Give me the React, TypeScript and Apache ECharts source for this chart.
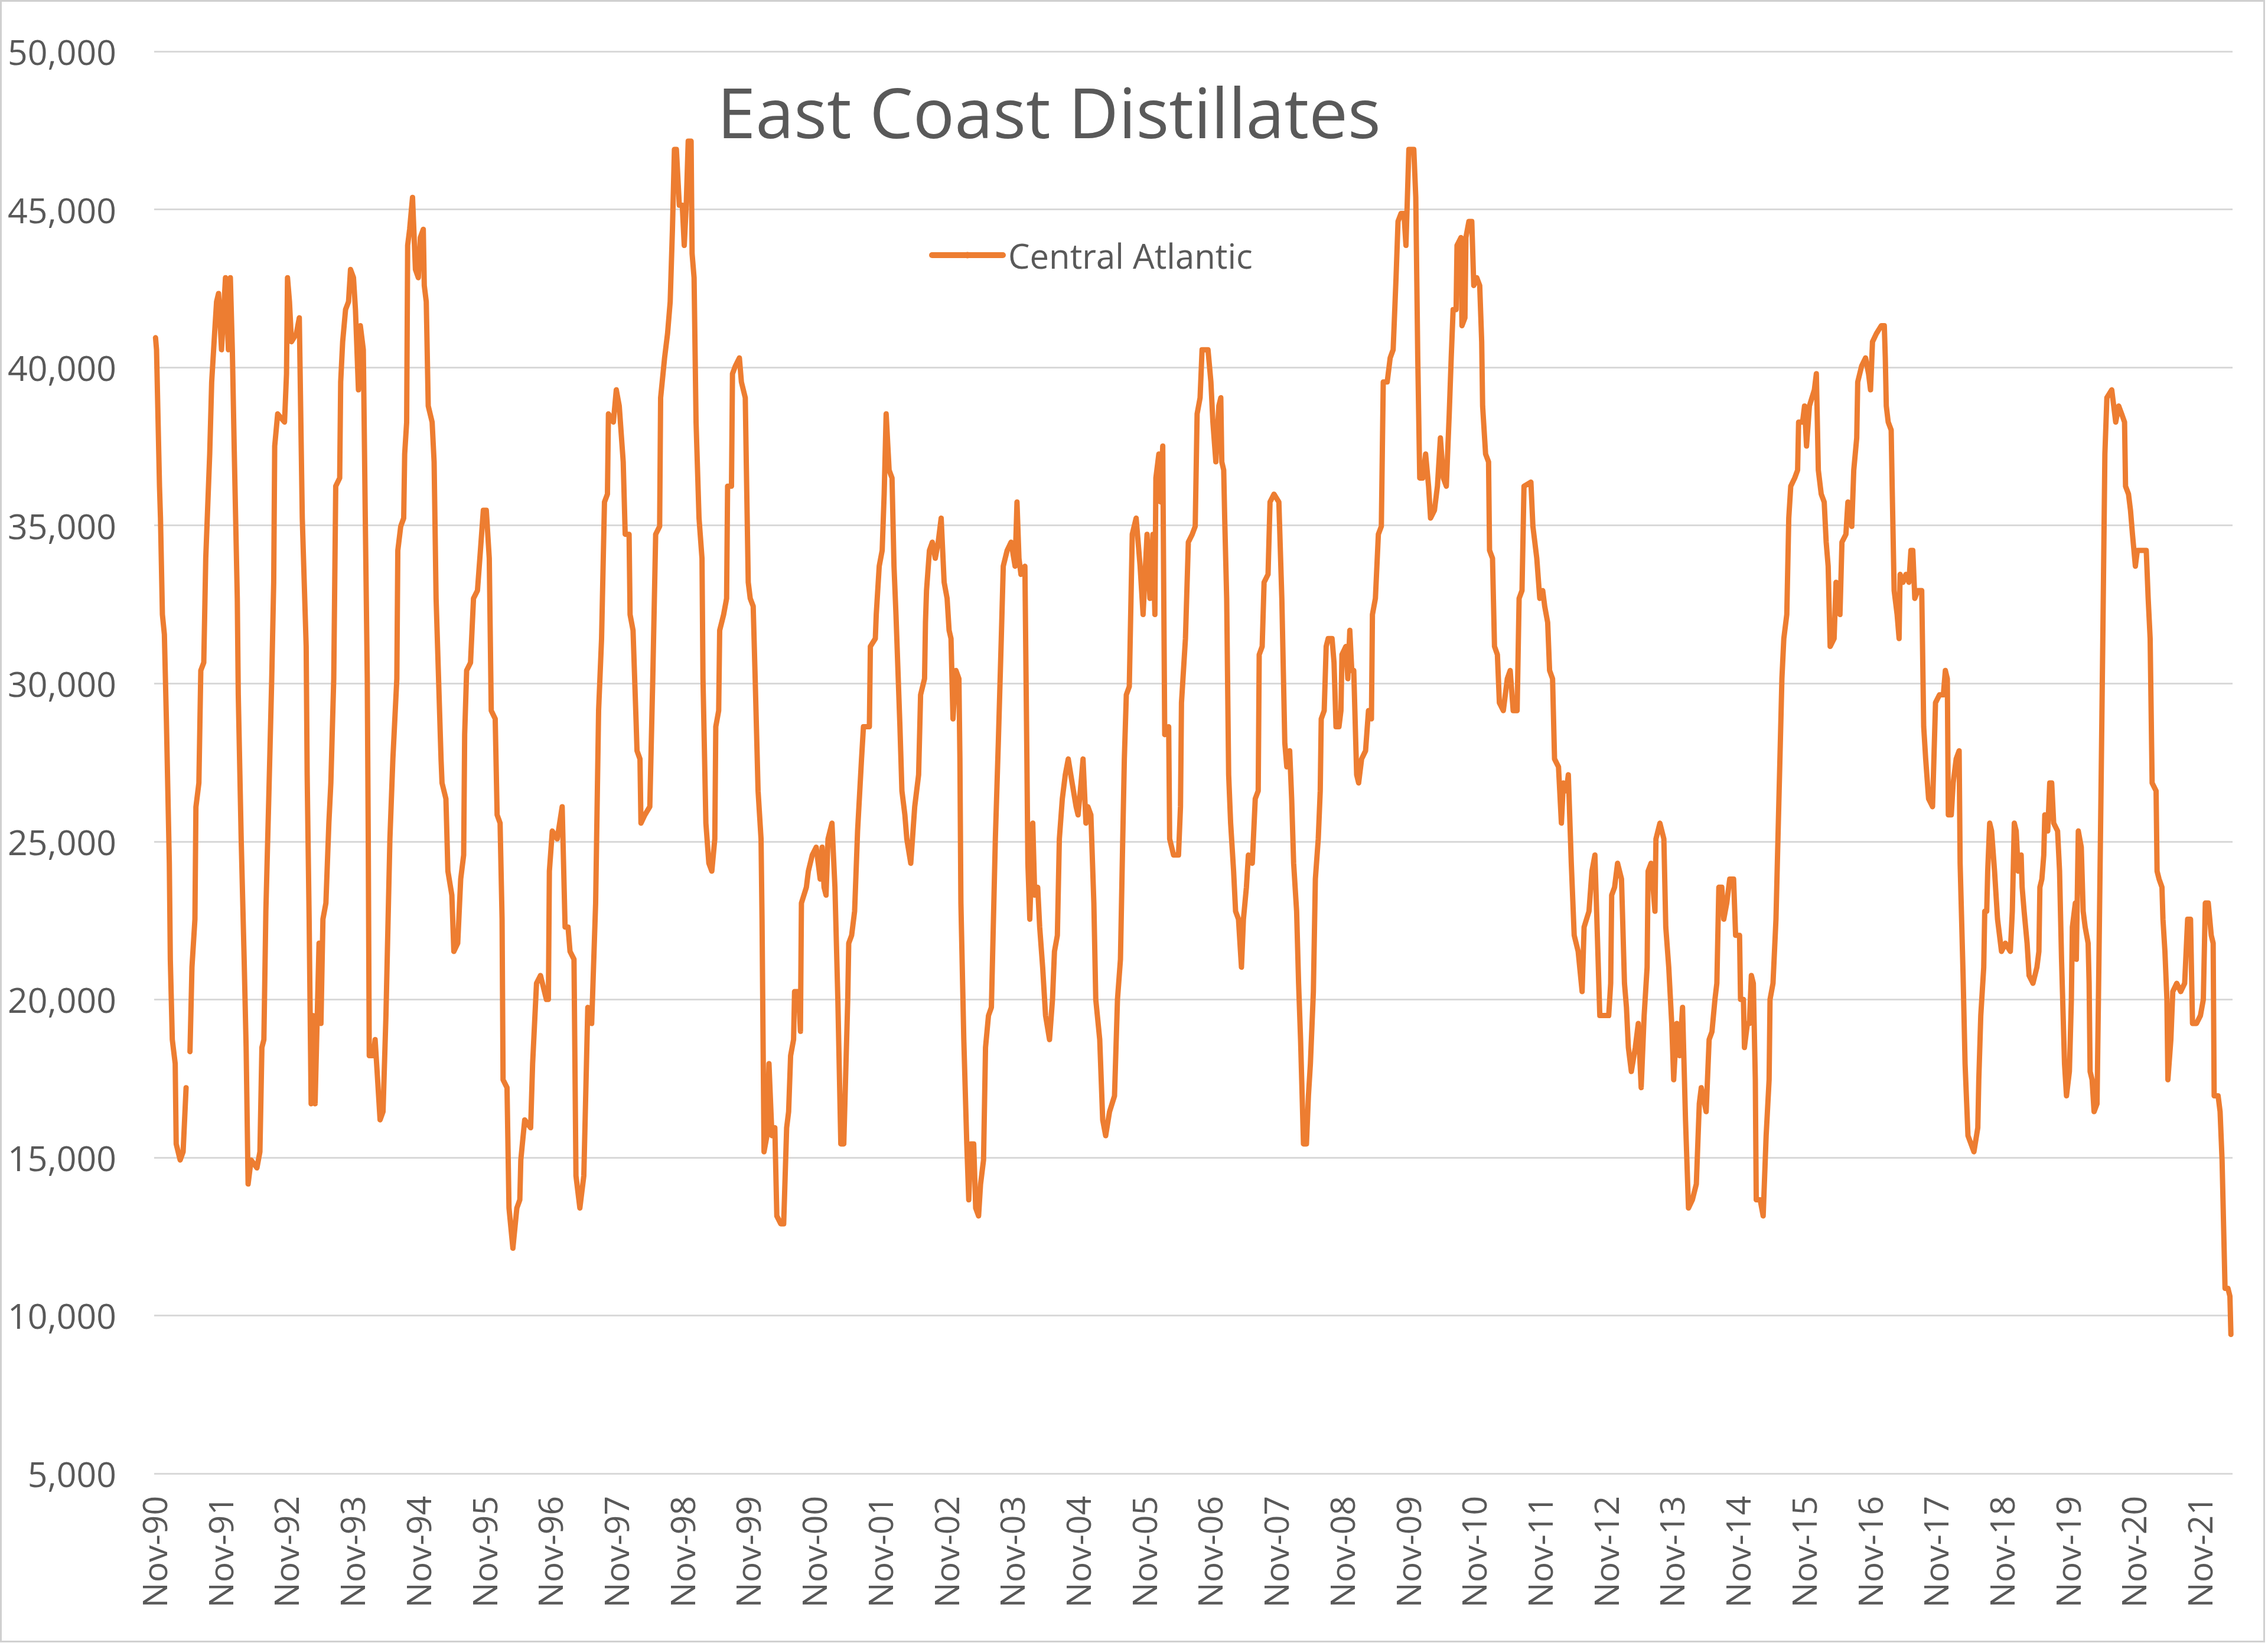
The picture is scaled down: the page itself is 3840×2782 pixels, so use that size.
import React, { useEffect, useRef } from 'react';
import * as echarts from 'echarts';

const TITLE = 'East Coast Distillates';
const SERIES_NAME = 'Central Atlantic';

const tickLabels = [
  'Nov-90', 'Nov-91', 'Nov-92', 'Nov-93', 'Nov-94', 'Nov-95', 'Nov-96', 'Nov-97',
  'Nov-98', 'Nov-99', 'Nov-00', 'Nov-01', 'Nov-02', 'Nov-03', 'Nov-04', 'Nov-05',
  'Nov-06', 'Nov-07', 'Nov-08', 'Nov-09', 'Nov-10', 'Nov-11', 'Nov-12', 'Nov-13',
  'Nov-14', 'Nov-15', 'Nov-16', 'Nov-17', 'Nov-18', 'Nov-19', 'Nov-20', 'Nov-21',
];

// [years since Nov-1990, stocks (thousand barrels)]
const stocks1990to1994: [number, number | null][] = [
  [0.021, 40940], [0.036, 40560], [0.081, 36240], [0.096, 35230], [0.125, 32180], [0.155, 31550],
  [0.185, 28880], [0.230, 24310], [0.245, 21270], [0.275, 18730], [0.319, 17970], [0.334, 15430],
  [0.394, 14920], [0.439, 15180], [0.484, 17210], [0.51, null], [0.543, 18350], [0.573, 21020],
  [0.618, 22540], [0.633, 26090], [0.678, 26850], [0.707, 30410], [0.752, 30660], [0.782, 33960],
  [0.842, 37260], [0.872, 39540], [0.916, 41070], [0.946, 42080], [0.976, 42340], [1.021, 40560],
  [1.081, 42840], [1.125, 40560], [1.155, 42840], [1.185, 40560], [1.215, 37260], [1.260, 32690],
  [1.275, 29640], [1.319, 25080], [1.364, 21270], [1.394, 18480], [1.424, 14160], [1.469, 14920],
  [1.558, 14670], [1.603, 15180], [1.633, 18480], [1.663, 18730], [1.693, 22790], [1.737, 26350],
  [1.782, 30150], [1.812, 33200], [1.827, 37510], [1.872, 38530], [1.976, 38270], [2.006, 39800],
  [2.021, 42840], [2.051, 42080], [2.081, 40810], [2.155, 41070], [2.200, 41570], [2.245, 35230],
  [2.304, 31170], [2.319, 27110], [2.349, 22540], [2.379, 16700], [2.409, 19490], [2.439, 16700],
  [2.469, 19240], [2.499, 21780], [2.528, 19240], [2.558, 22540], [2.603, 23050], [2.648, 25580],
  [2.678, 26850], [2.722, 30150], [2.752, 36240], [2.812, 36500], [2.827, 39540], [2.857, 40810],
  [2.901, 41830], [2.946, 42080], [2.976, 43100], [3.021, 42840], [3.051, 41830], [3.096, 39290],
  [3.125, 41320], [3.170, 40560], [3.200, 35230], [3.230, 30150], [3.245, 25080], [3.260, 18220],
  [3.319, 18220], [3.349, 18730], [3.379, 17720], [3.424, 16190], [3.469, 16450], [3.513, 19490],
  [3.573, 25080], [3.618, 27610], [3.678, 30150], [3.693, 34210], [3.737, 34970], [3.782, 35230],
  [3.797, 37260], [3.827, 38270], [3.842, 43860], [3.872, 44370], [3.916, 45380],
];

const stocks1994to1998: [number, number][] = [
  [3.960, 43100], [4.004, 42840], [4.034, 44110], [4.079, 44370], [4.094, 42590], [4.124, 42080],
  [4.154, 38780], [4.213, 38270], [4.243, 37010], [4.273, 32690], [4.303, 30660], [4.348, 27610],
  [4.363, 26850], [4.422, 26350], [4.452, 24060], [4.512, 23300], [4.542, 21520], [4.601, 21780],
  [4.646, 23810], [4.691, 24570], [4.706, 28380], [4.736, 30410], [4.795, 30660], [4.840, 32690],
  [4.900, 32940], [4.945, 34210], [4.989, 35480], [5.034, 35480], [5.079, 33960], [5.109, 29140],
  [5.169, 28880], [5.198, 25840], [5.243, 25580], [5.273, 22540], [5.288, 17460], [5.348, 17210],
  [5.378, 13400], [5.437, 12130], [5.497, 13400], [5.542, 13660], [5.557, 14920], [5.616, 16190],
  [5.706, 15940], [5.736, 17970], [5.795, 20510], [5.855, 20760], [5.945, 20000], [5.975, 20000],
  [5.990, 24060], [6.034, 25330], [6.109, 25080], [6.184, 26100], [6.228, 22290], [6.273, 22290],
  [6.303, 21520], [6.363, 21270], [6.393, 14420], [6.452, 13400], [6.512, 14420], [6.572, 19750],
  [6.631, 19240], [6.691, 23050], [6.736, 29140], [6.781, 31420], [6.825, 35740], [6.870, 35990],
  [6.885, 38530], [6.960, 38270], [7.004, 39290], [7.049, 38780], [7.109, 37010], [7.139, 34720],
  [7.198, 34720], [7.213, 32180], [7.258, 31680], [7.303, 28880], [7.318, 27870], [7.363, 27610],
  [7.378, 25580], [7.437, 25840], [7.512, 26100], [7.557, 30150], [7.601, 34720], [7.661, 34970],
  [7.676, 39040], [7.736, 40300], [7.781, 41070], [7.821, 42080], [7.855, 44370],
];

const stocks1998to2002: [number, number][] = [
  [7.885, 46900], [7.915, 46900], [7.959, 45130], [8.004, 45130], [8.034, 43860], [8.064, 45130],
  [8.094, 47160], [8.138, 47160], [8.153, 43600], [8.183, 42840], [8.213, 38270], [8.258, 35230],
  [8.303, 33960], [8.318, 30150], [8.362, 25580], [8.407, 24310], [8.452, 24060], [8.497, 25080],
  [8.512, 28630], [8.556, 29140], [8.571, 31680], [8.631, 32180], [8.676, 32690], [8.691, 36240],
  [8.750, 36240], [8.765, 39800], [8.810, 40050], [8.870, 40300], [8.900, 39540], [8.959, 39040],
  [8.974, 37010], [9.004, 33200], [9.034, 32690], [9.079, 32440], [9.109, 30150], [9.153, 26600],
  [9.198, 25080], [9.213, 22540], [9.243, 15180], [9.288, 15690], [9.318, 17970], [9.363, 15690],
  [9.407, 15940], [9.437, 13150], [9.497, 12900], [9.541, 12900], [9.586, 15940], [9.616, 16450],
  [9.646, 18220], [9.691, 18730], [9.706, 20250], [9.765, 20250], [9.795, 18990], [9.810, 23050],
  [9.885, 23550], [9.915, 24060], [9.974, 24570], [10.034, 24820], [10.094, 23810], [10.124, 24820],
  [10.153, 23550], [10.183, 23300], [10.213, 25080], [10.273, 25580], [10.318, 23550], [10.362, 20000],
  [10.407, 15430], [10.452, 15430], [10.482, 17720], [10.512, 20000], [10.527, 21780], [10.571, 22030],
  [10.616, 22790], [10.661, 25330], [10.721, 27610], [10.750, 28630], [10.840, 28630], [10.855, 31170],
  [10.930, 31420], [10.944, 32180], [10.989, 33710], [11.034, 34210], [11.064, 35990], [11.094, 38530],
  [11.139, 36750], [11.183, 36500], [11.213, 33710], [11.243, 32180], [11.303, 28630], [11.333, 26600],
  [11.378, 25840], [11.407, 25080], [11.467, 24310], [11.527, 26100], [11.586, 27110], [11.616, 29640],
  [11.676, 30150], [11.690, 31930], [11.706, 32940], [11.750, 34210],
];

const stocks2002to2006: [number, number][] = [
  [11.794, 34470], [11.839, 33960], [11.883, 34470], [11.928, 35230], [11.973, 33200], [12.018, 32690],
  [12.048, 31680], [12.077, 31420], [12.107, 28880], [12.152, 30410], [12.197, 30150], [12.212, 27610],
  [12.227, 23050], [12.271, 18730], [12.316, 15430], [12.346, 13660], [12.376, 15430], [12.421, 15430],
  [12.451, 13400], [12.495, 13150], [12.525, 14160], [12.570, 14920], [12.600, 18480], [12.645, 19490],
  [12.689, 19750], [12.749, 25080], [12.794, 28120], [12.839, 31420], [12.869, 33710], [12.928, 34210],
  [12.988, 34470], [13.048, 33710], [13.077, 35740], [13.107, 33960], [13.137, 33450], [13.197, 33710],
  [13.227, 27610], [13.242, 24310], [13.271, 22540], [13.316, 25580], [13.346, 23300], [13.391, 23550],
  [13.421, 22290], [13.466, 21020], [13.510, 19490], [13.570, 18730], [13.615, 20000], [13.645, 21520],
  [13.689, 22030], [13.719, 25080], [13.764, 26350], [13.809, 27110], [13.854, 27610], [13.913, 26850],
  [13.973, 26100], [14.003, 25840], [14.048, 26850], [14.078, 27610], [14.122, 25580], [14.152, 26100],
  [14.197, 25840], [14.242, 23050], [14.271, 20000], [14.331, 18730], [14.376, 16190], [14.421, 15690],
  [14.480, 16450], [14.555, 16950], [14.600, 20000], [14.645, 21270], [14.675, 24570], [14.704, 27610],
  [14.734, 29640], [14.779, 29900], [14.824, 34720], [14.883, 35230], [14.943, 33710], [14.988, 32180],
  [15.048, 34720], [15.092, 32690], [15.137, 34720], [15.167, 32180], [15.182, 36500], [15.227, 37260],
  [15.256, 35740], [15.286, 37510], [15.316, 28380], [15.376, 28630], [15.391, 25080], [15.450, 24570],
  [15.525, 24570], [15.555, 26100], [15.570, 29390], [15.630, 31420], [15.674, 34470],
];

const stocks2006to2010: [number, number][] = [
  [15.733, 34720], [15.778, 34970], [15.807, 38530], [15.852, 39040], [15.882, 40560], [15.972, 40560],
  [16.016, 39540], [16.046, 38270], [16.091, 37010], [16.136, 38780], [16.166, 39040], [16.181, 37010],
  [16.210, 36750], [16.225, 35230], [16.255, 32690], [16.285, 27110], [16.315, 25580], [16.360, 24060],
  [16.390, 22790], [16.434, 22540], [16.479, 21020], [16.509, 22540], [16.554, 23550], [16.584, 24570],
  [16.643, 24310], [16.688, 26350], [16.733, 26600], [16.748, 30910], [16.793, 31170], [16.822, 33200],
  [16.882, 33450], [16.912, 35740], [16.972, 35990], [17.046, 35740], [17.091, 32690], [17.136, 28120],
  [17.166, 27360], [17.210, 27870], [17.240, 26350], [17.270, 24310], [17.315, 22790], [17.345, 20510],
  [17.375, 18730], [17.419, 15430], [17.464, 15430], [17.494, 16950], [17.524, 17970], [17.569, 20250],
  [17.599, 23810], [17.643, 25080], [17.673, 26600], [17.688, 28880], [17.733, 29140], [17.763, 31170],
  [17.793, 31420], [17.852, 31420], [17.882, 30660], [17.912, 28630], [17.957, 28630], [17.987, 29140],
  [18.002, 30910], [18.061, 31170], [18.091, 30150], [18.121, 31680], [18.151, 30410], [18.181, 30410],
  [18.225, 27110], [18.255, 26850], [18.300, 27610], [18.360, 27870], [18.404, 29140], [18.449, 28880],
  [18.464, 32180], [18.509, 32690], [18.554, 34720], [18.599, 34970], [18.628, 39540], [18.688, 39540],
  [18.733, 40300], [18.778, 40560], [18.822, 42840], [18.852, 44620], [18.897, 44870], [18.942, 44870],
  [18.972, 43860], [19.016, 46900], [19.091, 46900], [19.121, 45380], [19.151, 40300], [19.181, 36500],
  [19.225, 36500], [19.270, 37260], [19.315, 36240], [19.345, 35230], [19.404, 35480], [19.449, 36240],
  [19.494, 37770], [19.539, 36500], [19.584, 36240], [19.628, 38530], [19.658, 40300],
];

const stocks2010to2014: [number, number][] = [
  [19.687, 41830], [19.732, 41830], [19.746, 43860], [19.806, 44110], [19.821, 41320], [19.866, 41570],
  [19.881, 44110], [19.926, 44620], [19.970, 44620], [20.000, 42590], [20.045, 42840], [20.090, 42590],
  [20.120, 40810], [20.134, 38780], [20.179, 37260], [20.224, 37010], [20.239, 34210], [20.284, 33960],
  [20.314, 31170], [20.358, 30910], [20.388, 29390], [20.448, 29140], [20.508, 30150], [20.552, 30410],
  [20.597, 29140], [20.657, 29140], [20.687, 32690], [20.731, 32940], [20.761, 36240], [20.866, 36370],
  [20.896, 34970], [20.955, 33960], [21.000, 32690], [21.045, 32940], [21.075, 32440], [21.120, 31930],
  [21.149, 30410], [21.194, 30150], [21.224, 27610], [21.284, 27360], [21.328, 25580], [21.358, 26850],
  [21.403, 26600], [21.433, 27110], [21.478, 24310], [21.522, 22030], [21.582, 21520], [21.642, 20250],
  [21.672, 22290], [21.746, 22790], [21.791, 24060], [21.836, 24570], [21.910, 19490], [22.000, 19490],
  [22.045, 19490], [22.075, 20510], [22.090, 23300], [22.134, 23550], [22.179, 24310], [22.239, 23810],
  [22.284, 20510], [22.314, 19750], [22.343, 18480], [22.388, 17720], [22.448, 18480], [22.493, 19240],
  [22.537, 17210], [22.582, 19490], [22.627, 21020], [22.642, 24060], [22.687, 24310], [22.746, 22790],
  [22.761, 25080], [22.821, 25580], [22.881, 25080], [22.910, 22290], [22.955, 21020], [23.000, 19240],
  [23.030, 17460], [23.075, 19240], [23.119, 18220], [23.164, 19750], [23.209, 16190], [23.254, 13400],
  [23.313, 13660], [23.373, 14160], [23.418, 16700], [23.448, 17210], [23.522, 16450], [23.567, 18730],
];

const stocks2014to2018: [number, number][] = [
  [23.610, 18980], [23.655, 20000], [23.684, 20510], [23.714, 23550], [23.759, 23550], [23.789, 22540],
  [23.834, 23050], [23.879, 23810], [23.938, 23810], [23.968, 22030], [24.028, 22030], [24.043, 20000],
  [24.087, 20000], [24.102, 18480], [24.147, 19240], [24.177, 19240], [24.207, 20760], [24.237, 20510],
  [24.267, 17460], [24.281, 13660], [24.341, 13660], [24.386, 13150], [24.431, 15690], [24.476, 17460],
  [24.490, 20000], [24.535, 20510], [24.580, 22540], [24.610, 25080], [24.640, 27610], [24.670, 30150],
  [24.699, 31420], [24.744, 32180], [24.774, 35230], [24.804, 36240], [24.864, 36500], [24.908, 36750],
  [24.923, 38270], [24.983, 38270], [25.013, 38780], [25.043, 37510], [25.087, 38780], [25.162, 39290],
  [25.192, 39800], [25.222, 36750], [25.266, 35990], [25.311, 35740], [25.341, 34470], [25.371, 33710],
  [25.401, 31170], [25.461, 31420], [25.490, 33200], [25.550, 32180], [25.580, 34470], [25.640, 34720],
  [25.670, 35740], [25.729, 34970], [25.759, 36750], [25.804, 37770], [25.819, 39540], [25.879, 40050],
  [25.938, 40300], [25.983, 39800], [26.013, 39290], [26.043, 40810], [26.102, 41070], [26.177, 41320],
  [26.222, 41320], [26.237, 40300], [26.252, 38780], [26.281, 38270], [26.326, 38020], [26.341, 36240],
  [26.371, 32940], [26.416, 32180], [26.446, 31420], [26.461, 33450], [26.505, 33200], [26.550, 33450],
  [26.595, 33200], [26.625, 34210], [26.654, 34210], [26.684, 32690], [26.729, 32940], [26.789, 32940],
  [26.819, 28630], [26.849, 27610], [26.893, 26350], [26.953, 26100], [26.998, 29390], [27.058, 29640],
  [27.117, 29640], [27.147, 30410], [27.177, 30150], [27.192, 25840], [27.237, 25840], [27.266, 26850],
  [27.311, 27610], [27.356, 27870], [27.371, 24310], [27.416, 20760], [27.446, 17970], [27.490, 15690],
];

const stocks2018to2022: [number, number][] = [
  [27.580, 15180], [27.639, 15940], [27.654, 17460], [27.684, 19490], [27.729, 21020], [27.744, 22790],
  [27.774, 22790], [27.789, 24060], [27.819, 25580], [27.848, 25330], [27.893, 24060], [27.938, 22540],
  [27.998, 21520], [28.057, 21780], [28.132, 21520], [28.162, 22790], [28.192, 25580], [28.221, 25330],
  [28.251, 24060], [28.296, 24570], [28.311, 23550], [28.341, 22790], [28.386, 21780], [28.416, 20760],
  [28.475, 20510], [28.535, 21020], [28.565, 21520], [28.580, 23550], [28.610, 23810], [28.639, 24570],
  [28.654, 25840], [28.699, 25330], [28.729, 26850], [28.759, 26850], [28.789, 25580], [28.848, 25330],
  [28.878, 24060], [28.908, 21270], [28.953, 17970], [28.983, 16950], [29.027, 17720], [29.057, 20000],
  [29.072, 22290], [29.117, 23050], [29.132, 21270], [29.162, 25330], [29.207, 24820], [29.236, 22790],
  [29.266, 22290], [29.311, 21780], [29.326, 20510], [29.341, 17720], [29.371, 17460], [29.401, 16450],
  [29.446, 16700], [29.475, 21270], [29.505, 26350], [29.535, 31680], [29.565, 37260], [29.595, 39040],
  [29.669, 39290], [29.729, 38270], [29.774, 38780], [29.819, 38530], [29.863, 38270], [29.878, 36240],
  [29.923, 35990], [29.953, 35480], [29.983, 34720], [30.027, 33710], [30.057, 34210], [30.132, 34210],
  [30.192, 34210], [30.221, 32690], [30.251, 31420], [30.281, 26850], [30.341, 26600], [30.356, 24060],
  [30.386, 23810], [30.430, 23550], [30.445, 22540], [30.475, 21520], [30.505, 20000], [30.520, 17460],
  [30.565, 18730], [30.594, 20250], [30.654, 20510], [30.714, 20250], [30.774, 20510], [30.819, 22540],
  [30.863, 22540], [30.893, 19240], [30.953, 19240], [31.013, 19490], [31.057, 20000], [31.087, 23050],
  [31.132, 23050], [31.177, 22030], [31.206, 21780], [31.221, 16950], [31.281, 16950], [31.311, 16450],
  [31.341, 14920], [31.386, 10860], [31.430, 10860], [31.460, 10610], [31.475, 9400],
];

const TEXT_COLOR = '#595959';
const LINE_COLOR = '#ED7D31';
const FONT = '"Open Sans", "Noto Sans", sans-serif';

export default function App() {
  const ref = useRef<HTMLDivElement>(null);

  useEffect(() => {
    document.body.style.margin = '0';
    const el = ref.current;
    if (!el) return;
    const chart = echarts.init(el, null, { renderer: 'svg' });

    const data = [
      ...stocks1990to1994,
      ...stocks1994to1998,
      ...stocks1998to2002,
      ...stocks2002to2006,
      ...stocks2006to2010,
      ...stocks2010to2014,
      ...stocks2014to2018,
      ...stocks2018to2022,
    ];

    chart.setOption({
      animation: false,
      backgroundColor: '#ffffff',
      textStyle: { fontFamily: FONT },
      grid: { left: 261, right: 60, top: 87, bottom: 287, containLabel: false },
      legend: {
        data: [SERIES_NAME],
        left: 1573,
        top: 402,
        padding: 0,
        itemWidth: 120,
        itemHeight: 14,
        lineStyle: { width: 10 },
        textStyle: {
          fontSize: 58,
          lineHeight: 60,
          color: TEXT_COLOR,
          fontFamily: FONT,
          padding: [0, 0, 0, 4],
        },
      },
      xAxis: {
        type: 'value',
        min: 0,
        max: 31.5,
        interval: 1,
        axisLine: { show: false },
        axisTick: { show: false },
        splitLine: { show: false },
        axisLabel: {
          rotate: 90,
          margin: 38,
          fontSize: 57,
          color: TEXT_COLOR,
          fontFamily: FONT,
          showMaxLabel: false,
          formatter: (v: number) => {
            const i = Math.round(v);
            return Math.abs(v - i) < 1e-6 ? tickLabels[i] ?? '' : '';
          },
        },
      },
      yAxis: {
        type: 'value',
        min: 5000,
        max: 50000,
        interval: 5000,
        axisLine: { show: false },
        axisTick: { show: false },
        splitLine: { lineStyle: { color: '#d9d9d9', width: 3 } },
        axisLabel: {
          margin: 64,
          fontSize: 59,
          color: TEXT_COLOR,
          fontFamily: FONT,
          formatter: (v: number) => v.toLocaleString('en-US'),
        },
      },
      series: [
        {
          type: 'line',
          name: SERIES_NAME,
          data,
          symbol: 'none',
          showSymbol: false,
          connectNulls: false,
          itemStyle: { color: LINE_COLOR },
          lineStyle: { color: LINE_COLOR, width: 9, join: 'round', cap: 'round' },
        },
      ],
      graphic: [
        {
          type: 'rect',
          silent: true,
          shape: { x: 1.5, y: 1.5, width: 3832, height: 2778 },
          style: { fill: 'none', stroke: '#d0d0d0', lineWidth: 3 },
        },
        {
          type: 'text',
          silent: true,
          x: 1776,
          y: 188,
          style: {
            text: TITLE,
            fill: TEXT_COLOR,
            fontSize: 117,
            fontFamily: FONT,
            align: 'center',
            verticalAlign: 'middle',
          },
        },
      ],
    });

    return () => chart.dispose();
  }, []);

  return (
    <div
      ref={ref}
      style={{ position: 'absolute', left: 0, top: 0, width: 3840, height: 2782 }}
    />
  );
}
